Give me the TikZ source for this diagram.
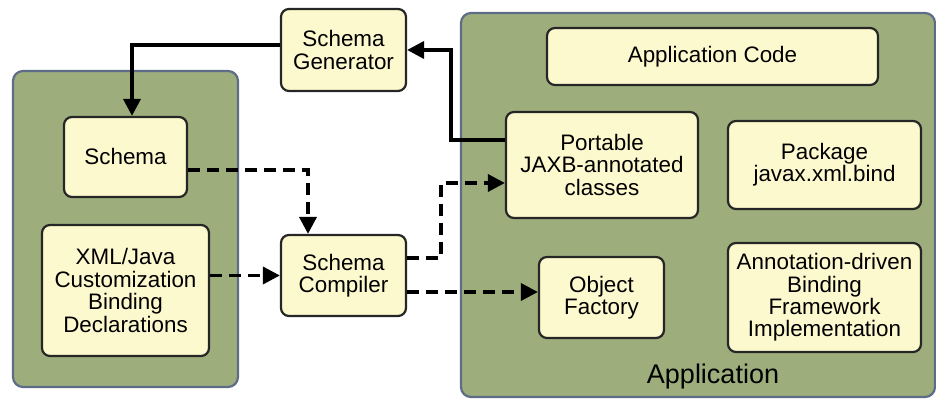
\documentclass[tikz,border=0pt]{standalone}
\usepackage{fontspec}
\setmainfont{Liberation Sans}
\usetikzlibrary{arrows.meta}

\definecolor{panelgreen}{HTML}{9DAE7C}
\definecolor{panelrim}{HTML}{5E6C88}
\definecolor{boxfill}{HTML}{FDF9CE}

\tikzset{
    panel/.style={fill=panelgreen, draw=panelrim, line width=1.1pt, rounded corners=5pt},
    unit/.style={draw=black!85, fill=boxfill, line width=1.1pt, rounded corners=4pt,
        align=center, inner sep=2pt, font=\fontsize{11.2}{11.2}\selectfont},
    flow/.style={->, line width=1.8pt},
    dashflow/.style={flow, dash pattern=on 6pt off 3.5pt}
}

\begin{document}
\begin{tikzpicture}[x=0.5pt, y=0.5pt, >={Triangle[length=8.5pt,width=8.5pt]}]
    \useasboundingbox (0,0) rectangle (936,399);

    % Green panels
    \draw[panel] (13,12) rectangle (238,328);
    \draw[panel] (461,2) rectangle (935,386);

    % Tools and inputs
    \node[unit, minimum width=62.5pt, minimum height=41pt] (gen) at (343.5,349) {Schema\\Generator};
    \node[unit, minimum width=61.5pt, minimum height=40pt] (schema) at (125.5,242) {Schema};
    \node[unit, minimum width=83.5pt, minimum height=65.5pt] (xml) at (125.5,108.5) {XML/Java\\Customization\\Binding\\Declarations};
    \node[unit, minimum width=62.5pt, minimum height=40.5pt] (comp) at (343.5,123.5) {Schema\\Compiler};

    % Application side
    \node[unit, minimum width=165.5pt, minimum height=28.5pt] (code) at (712.5,342.5) {Application Code};
    \node[unit, minimum width=96pt, minimum height=53pt] (jaxb) at (602,234) {Portable\\JAXB-annotated\\classes};
    \node[unit, minimum width=96.5pt, minimum height=44pt] (pkg) at (824.5,234) {Package\\javax.xml.bind};
    \node[unit, minimum width=62.5pt, minimum height=40.5pt] (objf) at (601.5,101.5) {Object\\Factory};
    \node[unit, minimum width=96.5pt, minimum height=54.5pt] (annot) at (824.5,101.5) {Annotation-driven\\Binding\\Framework\\Implementation};
    \node[font=\fontsize{13.5}{14}\selectfont] (applbl) at (713,22) {Application};

    % Solid arrows (generation)
    \draw[flow] ([yshift=12.5pt]jaxb.west) -- ++(-27pt,0) |- (gen.east);
    \draw[flow] ([yshift=2.5pt]gen.west) -| ([xshift=3.25pt]schema.north);

    % Dashed arrows (compilation)
    \draw[dashflow] ([yshift=-6.5pt]schema.east) -| ([xshift=-17.75pt]comp.north);
    \draw[dashflow] (xml.east |- comp.west) -- (comp.west);
    \draw[dashflow] ([yshift=8.75pt]comp.east) -- ++(17pt,0) |- ([yshift=-9pt]jaxb.west);
    \draw[dashflow] ([yshift=-8.25pt]comp.east) -- ([yshift=2.75pt]objf.west);
\end{tikzpicture}
\end{document}
